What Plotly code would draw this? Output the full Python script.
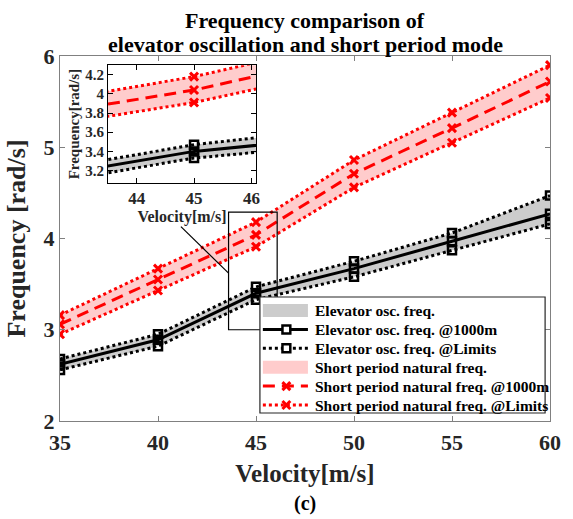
import plotly.graph_objects as go

# Velocity sweep [m/s]
velocity = [35, 40, 45, 50, 55, 60]

# Elevator oscillation frequency [rad/s]
elev_1000m = [2.62, 2.89, 3.40, 3.67, 3.97, 4.27]
elev_upper = [2.68, 2.95, 3.47, 3.75, 4.06, 4.47]
elev_lower = [2.56, 2.82, 3.33, 3.58, 3.87, 4.16]

# Short period natural frequency [rad/s]
sp_1000m = [3.06, 3.55, 4.04, 4.71, 5.21, 5.72]
sp_upper = [3.16, 3.67, 4.18, 4.86, 5.38, 5.90]
sp_lower = [2.95, 3.43, 3.91, 4.56, 5.05, 5.54]

main_x_ticks = [35, 40, 45, 50, 55, 60]
main_y_ticks = [2, 3, 4, 5, 6]
inset_x_ticks = [44, 45, 46]
inset_y_ticks = [3.2, 3.4, 3.6, 3.8, 4.0, 4.2]

legend_labels = [
    "Elevator osc. freq.",
    "Elevator osc. freq. @1000m",
    "Elevator osc. freq. @Limits",
    "Short period natural freq.",
    "Short period natural freq. @1000m",
    "Short period natural freq. @Limits",
]

FONT = "Liberation Serif"
GRAY_FILL = "rgb(204,204,204)"
PINK_FILL = "rgb(255,204,204)"
RED = "rgb(255,0,0)"
BLACK = "rgb(0,0,0)"
TXT = "rgb(38,38,38)"
DOT = "3px,3px"
DASH = "12px,7px"

W, H = 573, 519
ML, MR, MT, MB = 60, 13, 56, 98
PW, PH = W - ML - MR, H - MT - MB

fig = go.Figure()


def add_series(xa, ya):
    # shaded bands between the limit curves
    fig.add_trace(go.Scatter(
        x=velocity + velocity[::-1], y=elev_upper + elev_lower[::-1],
        fill="toself", fillcolor=GRAY_FILL, mode="lines", line=dict(width=0),
        name=legend_labels[0], xaxis=xa, yaxis=ya, hoverinfo="skip"))
    fig.add_trace(go.Scatter(
        x=velocity + velocity[::-1], y=sp_upper + sp_lower[::-1],
        fill="toself", fillcolor=PINK_FILL, mode="lines", line=dict(width=0),
        name=legend_labels[3], xaxis=xa, yaxis=ya, hoverinfo="skip"))

    sq = dict(symbol="square-open", size=8, color=BLACK, line=dict(width=2.5, color=BLACK))
    xm = dict(symbol="x-thin", size=8, color=RED, line=dict(width=3, color=RED))

    for yv in (elev_upper, elev_lower):
        fig.add_trace(go.Scatter(
            x=velocity, y=yv, mode="lines+markers",
            line=dict(color=BLACK, width=3, dash=DOT), marker=sq,
            name=legend_labels[2], xaxis=xa, yaxis=ya))
    fig.add_trace(go.Scatter(
        x=velocity, y=elev_1000m, mode="lines+markers",
        line=dict(color=BLACK, width=3), marker=sq,
        name=legend_labels[1], xaxis=xa, yaxis=ya))

    for yv in (sp_upper, sp_lower):
        fig.add_trace(go.Scatter(
            x=velocity, y=yv, mode="lines+markers",
            line=dict(color=RED, width=3, dash=DOT), marker=xm,
            name=legend_labels[5], xaxis=xa, yaxis=ya))
    fig.add_trace(go.Scatter(
        x=velocity, y=sp_1000m, mode="lines+markers",
        line=dict(color=RED, width=3, dash=DASH), marker=xm,
        name=legend_labels[4], xaxis=xa, yaxis=ya))


add_series("x", "y")
add_series("x2", "y2")

axis_common = dict(showgrid=False, zeroline=False, ticks="inside", mirror="ticks",
                   showline=True, ticklen=5)


def tfont(size, color=TXT):
    return dict(family=FONT, size=size, color=color, weight="bold")


fig.update_layout(
    width=W, height=H,
    margin=dict(l=ML, r=MR, t=MT, b=MB),
    paper_bgcolor="white", plot_bgcolor="white",
    font=dict(family=FONT, color=TXT, weight="bold"),
    showlegend=False,
    xaxis=dict(
        range=[35, 60], tickvals=main_x_ticks, linecolor="rgb(128,128,128)",
        tickcolor="rgb(128,128,128)", linewidth=1, tickfont=tfont(22),
        ticklabelstandoff=2,
        title=dict(text="Velocity[m/s]", standoff=10, font=tfont(25)),
        **axis_common),
    yaxis=dict(
        range=[2, 6], tickvals=main_y_ticks, linecolor="rgb(128,128,128)",
        tickcolor="rgb(128,128,128)", linewidth=1, tickfont=tfont(22),
        title=dict(text="Frequency [rad/s]", standoff=10, font=tfont(26)),
        **axis_common),
    xaxis2=dict(
        domain=[0.098, 0.4], anchor="y2", range=[43.5, 46.08], tickvals=inset_x_ticks,
        linecolor=BLACK, tickcolor=BLACK, linewidth=1, tickfont=tfont(17),
        title=dict(text="Velocity[m/s]", standoff=2, font=tfont(16)),
        **axis_common),
    yaxis2=dict(
        domain=[0.652, 0.975], anchor="x2", range=[3.07, 4.30], tickvals=inset_y_ticks,
        ticktext=["3.2", "3.4", "3.6", "3.8", "4", "4.2"],
        linecolor=BLACK, tickcolor=BLACK, linewidth=1, tickfont=tfont(15),
        title=dict(text="Frequency[rad/s]", standoff=2, font=tfont(15)),
        **axis_common),
)

# zoom window and its pointer on the main axes
fig.add_shape(type="rect", xref="x", yref="y", x0=43.6, x1=46.08, y0=3.0, y1=4.29,
              line=dict(color=BLACK, width=1.2), layer="above")
fig.add_shape(type="line", xref="x", yref="y", x0=41.17, y0=4.13, x1=43.6, y1=3.62,
              line=dict(color=BLACK, width=1.2), layer="above")


# ---- legend box (drawn in pixel units converted to paper coordinates) ----
def px(p):
    return (p - ML) / PW


def py(p):
    return (H - MB - p) / PH


LEG_L, LEG_R, LEG_T, LEG_B = 264, 555, 297, 413
ROW0, ROW_STEP = 310.5, 18.9
SAMPLE_L, SAMPLE_R, MARK_X, TEXT_X = 267, 313, 291, 318

fig.add_shape(type="rect", xref="paper", yref="paper",
              x0=px(LEG_L), x1=px(LEG_R), y0=py(LEG_B), y1=py(LEG_T),
              fillcolor="white", line=dict(color=TXT, width=1.2), layer="above")


def leg_band(yc, color):
    fig.add_shape(type="rect", xref="paper", yref="paper",
                  x0=px(SAMPLE_L), x1=px(SAMPLE_R), y0=py(yc + 6.5), y1=py(yc - 6.5),
                  fillcolor=color, line=dict(width=0), layer="above")


def leg_line(yc, color, dash):
    fig.add_shape(type="line", xref="paper", yref="paper",
                  x0=px(SAMPLE_L), x1=px(SAMPLE_R), y0=py(yc), y1=py(yc),
                  line=dict(color=color, width=3, dash=dash), layer="above")


def leg_square(yc):
    fig.add_shape(type="rect", xref="paper", yref="paper",
                  x0=px(MARK_X - 4), x1=px(MARK_X + 4), y0=py(yc + 4), y1=py(yc - 4),
                  fillcolor="white", line=dict(color=BLACK, width=2.5), layer="above")


def leg_cross(yc):
    for s in (1, -1):
        fig.add_shape(type="line", xref="paper", yref="paper",
                      x0=px(MARK_X - 4), x1=px(MARK_X + 4),
                      y0=py(yc - 4 * s), y1=py(yc + 4 * s),
                      line=dict(color=RED, width=3), layer="above")


for i, label in enumerate(legend_labels):
    yc = ROW0 + ROW_STEP * i
    if i == 0:
        leg_band(yc, GRAY_FILL)
    elif i == 1:
        leg_line(yc, BLACK, "solid")
        leg_square(yc)
    elif i == 2:
        leg_line(yc, BLACK, DOT)
        leg_square(yc)
    elif i == 3:
        leg_band(yc, PINK_FILL)
    elif i == 4:
        leg_line(yc, RED, DASH)
        leg_cross(yc)
    else:
        leg_line(yc, RED, DOT)
        leg_cross(yc)
    fig.add_annotation(text=label, xref="paper", yref="paper", x=px(TEXT_X), y=py(yc),
                       xanchor="left", yanchor="middle", showarrow=False,
                       font=tfont(15.5, "black"))

# two-line heading and panel tag
fig.add_annotation(text="Frequency comparison of", xref="paper", yref="paper",
                   x=0.5, y=1, yshift=36, xanchor="center", yanchor="middle",
                   showarrow=False, font=tfont(22, "black"))
fig.add_annotation(text="elevator oscillation and short period mode", xref="paper",
                   yref="paper", x=0.5, y=1, yshift=12, xanchor="center",
                   yanchor="middle", showarrow=False, font=tfont(22, "black"))
fig.add_annotation(text="(c)", xref="paper", yref="paper", x=0.5, y=0, yshift=-82,
                   xanchor="center", yanchor="middle", showarrow=False,
                   font=tfont(20, "black"))

fig.write_html("out.html")
